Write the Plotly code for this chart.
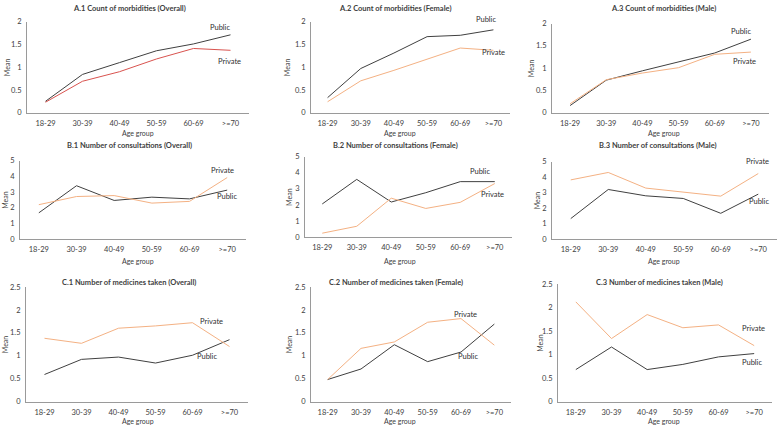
import plotly.graph_objects as go

W, H = 778, 431

age_groups = ["18-29", "30-39", "40-49", "50-59", "60-69", ">=70"]

titles = [
    "A.1 Count of morbidities (Overall)", "A.2 Count of morbidities (Female)", "A.3 Count of morbidities (Male)",
    "B.1 Number of consultations (Overall)", "B.2 Number of consultations (Female)", "B.3 Number of consultations (Male)",
    "C.1 Number of medicines taken (Overall)", "C.2 Number of medicines taken (Female)", "C.3 Number of medicines taken (Male)",
]

# Public series
a1_public = [0.25, 0.84, 1.10, 1.36, 1.51, 1.71]
a2_public = [0.33, 0.97, 1.31, 1.67, 1.70, 1.82]
a3_public = [0.16, 0.73, 0.94, 1.14, 1.34, 1.65]
b1_public = [1.67, 3.40, 2.46, 2.67, 2.56, 3.12]
b2_public = [2.06, 3.59, 2.18, 2.76, 3.45, 3.45]
b3_public = [1.32, 3.20, 2.79, 2.62, 1.66, 2.90]
c1_public = [0.59, 0.92, 0.97, 0.84, 1.01, 1.35]
c2_public = [0.48, 0.71, 1.24, 0.87, 1.08, 1.69]
c3_public = [0.68, 1.16, 0.68, 0.79, 0.95, 1.02]

# Private series
a1_private = [0.23, 0.69, 0.90, 1.18, 1.41, 1.37]
a2_private = [0.24, 0.70, 0.93, 1.17, 1.42, 1.37]
a3_private = [0.20, 0.74, 0.89, 1.01, 1.31, 1.36]
b1_private = [2.19, 2.71, 2.77, 2.29, 2.40, 3.92]
b2_private = [0.24, 0.67, 2.42, 1.78, 2.16, 3.33]
b3_private = [3.82, 4.30, 3.29, 3.04, 2.77, 4.23]
c1_private = [1.38, 1.27, 1.60, 1.65, 1.72, 1.20]
c2_private = [0.48, 1.16, 1.30, 1.73, 1.81, 1.23]
c3_private = [2.12, 1.34, 1.85, 1.57, 1.63, 1.19]

public = [a1_public, a2_public, a3_public, b1_public, b2_public, b3_public, c1_public, c2_public, c3_public]
private = [a1_private, a2_private, a3_private, b1_private, b2_private, b3_private, c1_private, c2_private, c3_private]

y_max = [2, 2, 2, 5, 5, 5, 2.5, 2.5, 2.5]
y_dtick = [0.5, 0.5, 0.5, 1, 1, 1, 0.5, 0.5, 0.5]

# pixel boxes of plot areas: (x0, x1, ytop, ybottom)
boxes = [
    (27, 249, 18, 111), (311, 510, 18, 111), (552, 769, 20, 111),
    (20, 246, 160, 240), (305, 512, 156, 238), (552, 777, 161, 240),
    (26, 248, 289, 406), (311, 511, 289, 406), (558, 772, 286, 406),
]
title_pos = [(129, 5), (395, 5), (663, 5), (129, 145), (395, 145), (658, 145), (129, 284), (396, 284), (659, 284)]
xlab_pos = [(138, 132), (400, 132), (664, 132), (138, 262), (400, 262), (664, 262), (138, 426), (400, 426), (664, 426)]
ylab_x = [7, 287, 531, 5, 289, 537, 5, 289, 540]
pub_lab = [(220, 24), (486, 16), (741, 28), (227, 197), (480, 171), (759, 202), (207, 360), (468, 360), (752, 366)]
priv_lab = [(229, 59), (494, 50), (744, 59), (222, 170), (492, 195), (757, 161), (211, 324), (465, 317), (753, 331)]

PUB_COLOR = "#404040"
PRIV_COLORS = ["#d9534f"] + ["#f4b183"] * 8
FONT = "Lato, Open Sans, sans-serif"

fig = go.Figure()
layout = dict(
    width=W, height=H, margin=dict(l=0, r=0, t=0, b=0),
    plot_bgcolor="white", paper_bgcolor="white", showlegend=False,
    font=dict(family=FONT, size=7.5, color="#404040"),
)
annotations = []

def px(x):
    return x / W

def py(y):
    return 1 - y / H

for i in range(9):
    n = "" if i == 0 else str(i + 1)
    fig.add_trace(go.Scatter(x=age_groups, y=public[i], mode="lines",
                             line=dict(color=PUB_COLOR, width=1),
                             xaxis="x" + n, yaxis="y" + n, hoverinfo="skip"))
    fig.add_trace(go.Scatter(x=age_groups, y=private[i], mode="lines",
                             line=dict(color=PRIV_COLORS[i], width=1),
                             xaxis="x" + n, yaxis="y" + n, hoverinfo="skip"))
    x0, x1, yt, yb = boxes[i]
    layout["xaxis" + n] = dict(
        domain=[px(x0), px(x1)], anchor="y" + n, type="category",
        range=[-0.5, 5.5], showgrid=False, zeroline=False,
        showline=True, linecolor="#9a9a9a", linewidth=1, ticks="outside", ticklen=3, tickcolor="rgba(0,0,0,0)",
        tickfont=dict(size=7.5, color="#404040"), fixedrange=True,
    )
    layout["yaxis" + n] = dict(
        domain=[py(yb), py(yt)], anchor="x" + n,
        range=[0, y_max[i]], dtick=y_dtick[i], showgrid=False, zeroline=False,
        showline=True, linecolor="#9a9a9a", linewidth=1, ticks="outside", ticklen=3, tickcolor="rgba(0,0,0,0)",
        tickfont=dict(size=7.5, color="#404040"), fixedrange=True,
    )
    tx, ty = title_pos[i]
    annotations.append(dict(text="<b>" + titles[i] + "</b>", x=px(tx), y=py(ty), xref="paper", yref="paper",
                            showarrow=False, xanchor="center", yanchor="middle",
                            font=dict(size=7.5, color="#404040", family=FONT)))
    lx, ly = xlab_pos[i]
    annotations.append(dict(text="Age group", x=px(lx), y=py(ly), xref="paper", yref="paper",
                            showarrow=False, xanchor="center", yanchor="middle",
                            font=dict(size=7, color="#404040", family=FONT)))
    annotations.append(dict(text="Mean", x=px(ylab_x[i]), y=py((yt + yb) / 2), xref="paper", yref="paper",
                            showarrow=False, xanchor="center", yanchor="middle", textangle=-90,
                            font=dict(size=7, color="#404040", family=FONT)))
    ux, uy = pub_lab[i]
    annotations.append(dict(text="Public", x=px(ux), y=py(uy), xref="paper", yref="paper",
                            showarrow=False, xanchor="center", yanchor="middle",
                            font=dict(size=7.5, color="#303030", family=FONT)))
    vx, vy = priv_lab[i]
    annotations.append(dict(text="Private", x=px(vx), y=py(vy), xref="paper", yref="paper",
                            showarrow=False, xanchor="center", yanchor="middle",
                            font=dict(size=7.5, color="#303030", family=FONT)))

layout["annotations"] = annotations
fig.update_layout(**layout)
fig.write_html("out.html", config={"displayModeBar": False},
               post_script="document.body.style.margin='0';document.body.style.overflow='hidden';")
